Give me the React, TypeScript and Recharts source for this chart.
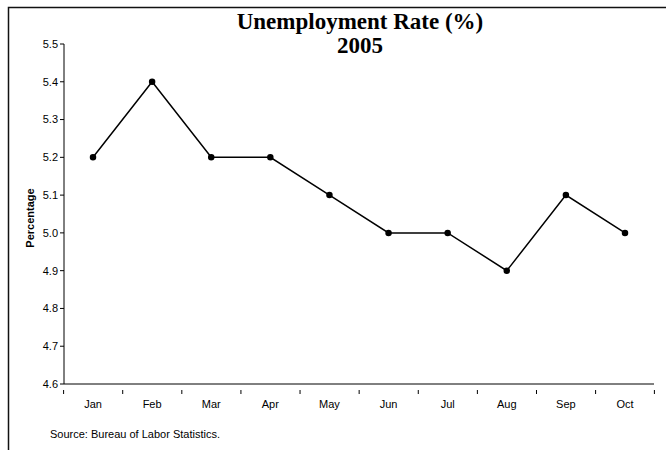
import { LineChart, Line, XAxis, YAxis } from "recharts";

const MONTHS = ["Jan", "Feb", "Mar", "Apr", "May", "Jun", "Jul", "Aug", "Sep", "Oct"];
const RATES = [5.2, 5.4, 5.2, 5.2, 5.1, 5.0, 5.0, 4.9, 5.1, 5.0];
const Y_TICKS = [4.6, 4.7, 4.8, 4.9, 5.0, 5.1, 5.2, 5.3, 5.4, 5.5];

const data = MONTHS.map((m, i) => ({ month: m, rate: RATES[i] }));

const SANS = "'Liberation Sans', Arial, sans-serif";
const SERIF = "'Liberation Serif', 'Times New Roman', serif";
const HALF_STEP = 29.4;

// month label plus a small tick mark at the boundary between categories
function MonthTick(props: any) {
  const { x, y, payload, index } = props;
  const axisY = y - 10;
  return (
    <g>
      <line x1={x - HALF_STEP} x2={x - HALF_STEP} y1={axisY} y2={axisY + 4} stroke="#000" />
      {index === MONTHS.length - 1 && (
        <line x1={x + HALF_STEP} x2={x + HALF_STEP} y1={axisY} y2={axisY + 4} stroke="#000" />
      )}
      <text x={x} y={y} dy="0.71em" textAnchor="middle" fill="#000" fontSize={11} fontFamily={SANS}>
        {payload.value}
      </text>
    </g>
  );
}

export default function App() {
  return (
    <div style={{ position: "absolute", left: 0, top: 0, width: 666, height: 450, background: "#fff", overflow: "hidden" }}>
      <svg width={666} height={450} style={{ position: "absolute", left: 0, top: 0 }}>
        <path d="M8.5 452 L8.5 7.5 L666 7.5" fill="none" stroke="#111" strokeWidth={1.5} />
      </svg>
      <div
        style={{
          position: "absolute",
          left: 160,
          width: 400,
          top: 10,
          textAlign: "center",
          fontFamily: SERIF,
          fontWeight: "bold",
          fontSize: 23,
          lineHeight: "24px",
          color: "#000",
        }}
      >
        Unemployment Rate (%)
        <br />
        2005
      </div>
      <div
        style={{
          position: "absolute",
          left: 30,
          top: 218,
          transform: "translate(-50%, -50%) rotate(-90deg)",
          fontFamily: SANS,
          fontWeight: "bold",
          fontSize: 11,
          whiteSpace: "nowrap",
        }}
      >
        Percentage
      </div>
      <div
        style={{
          position: "absolute",
          left: 50,
          top: 428,
          fontFamily: SANS,
          fontSize: 11,
        }}
      >
        Source: Bureau of Labor Statistics.
      </div>
      <div style={{ position: "absolute", left: 0, top: 0 }}>
        <LineChart width={666} height={450} data={data} margin={{ top: 44, right: 12, bottom: 36, left: 4 }}>
          <XAxis
            dataKey="month"
            tickLine={false}
            padding={{ left: 29, right: 29 }}
            axisLine={{ stroke: "#000" }}
            tick={<MonthTick />}
            tickMargin={10}
            height={30}
          />
          <YAxis
            domain={[4.6, 5.5]}
            ticks={Y_TICKS}
            tickFormatter={(v: number) => v.toFixed(1)}
            width={60}
            axisLine={{ stroke: "#000" }}
            tickLine={{ stroke: "#000" }}
            tickSize={4}
            tick={{ fill: "#000", fontSize: 11, fontFamily: SANS }}
          />
          <Line
            dataKey="rate"
            stroke="#000"
            strokeWidth={1.5}
            dot={{ r: 2.5, fill: "#000", stroke: "#000" }}
            isAnimationActive={false}
          />
        </LineChart>
      </div>
    </div>
  );
}
